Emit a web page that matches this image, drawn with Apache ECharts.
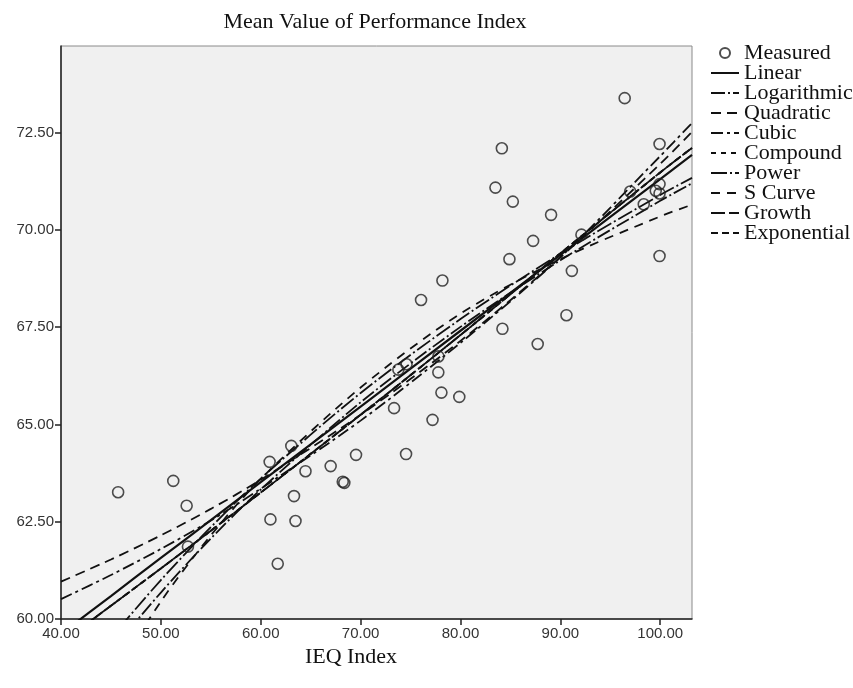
<!DOCTYPE html>
<html>
<head>
<meta charset="utf-8">
<title>Mean Value of Performance Index</title>
<script src="https://cdn.jsdelivr.net/npm/echarts@6/dist/echarts.min.js"></script>
<style>
  html, body { margin: 0; padding: 0; background: #fff; }
  #chart { width: 853px; height: 688px; }
</style>
</head>
<body>
<div id="chart"></div>
<script>
// measured points (IEQ index, performance index)
const ieq = [45.72, 51.24, 52.58, 52.71, 60.89, 63.06, 64.48, 67.00, 68.21, 68.37,
  69.54, 63.33, 60.97, 63.48, 61.70, 76.05, 74.60, 73.78, 77.79, 77.78,
  78.09, 79.88, 73.35, 77.20, 74.55, 84.20, 87.73, 96.44, 84.14, 99.93,
  83.50, 85.24, 89.07, 99.93, 99.55, 99.93, 96.99, 98.35, 92.11, 87.27,
  84.90, 78.19, 99.93, 91.15, 90.61];
const perf = [63.26, 63.55, 62.91, 61.86, 64.04, 64.45, 63.80, 63.93, 63.53, 63.50,
  64.22, 63.16, 62.56, 62.52, 61.42, 68.20, 66.55, 66.41, 66.75, 66.34,
  65.82, 65.71, 65.42, 65.12, 64.24, 67.46, 67.07, 73.39, 72.10, 72.21,
  71.09, 70.73, 70.39, 71.18, 71.01, 70.94, 70.99, 70.66, 69.88, 69.72,
  69.25, 68.70, 69.33, 68.95, 67.81];

// fitted curves at these x positions
const fitX = [40, 45, 50, 55, 60, 70, 80, 90, 100, 103.18];
const linearY = [59.62, 60.59, 61.57, 62.54, 63.52, 65.46, 67.41, 69.36, 71.31, 71.93];
const logY = [57.44, 59.15, 60.68, 62.07, 63.33, 65.57, 67.51, 69.22, 70.75, 71.20];
const quadY = [60.96, 61.53, 62.15, 62.83, 63.58, 65.25, 67.15, 69.30, 71.70, 72.52];
const cubicY = [60.51, 61.13, 61.80, 62.53, 63.35, 65.10, 67.10, 69.30, 71.90, 72.75];
const powerY = [57.82, 59.50, 61.00, 62.36, 63.61, 65.81, 67.71, 69.39, 70.90, 71.34];
const sCurveY = [55.90, 58.40, 60.45, 62.15, 63.60, 65.95, 67.85, 69.25, 70.35, 70.65];
// compound, growth and exponential give the same curve
const expY = [59.38, 60.34, 61.30, 62.27, 63.25, 65.25, 67.30, 69.40, 71.48, 72.11];

const xTicks = [40, 50, 60, 70, 80, 90, 100];
const yTicks = [60, 62.5, 65, 67.5, 70, 72.5];

const fits = [
  { name: 'Linear', y: linearY, type: 'solid', width: 2.2 },
  { name: 'Logarithmic', y: logY, type: [14, 3, 2, 3], width: 1.8 },
  { name: 'Quadratic', y: quadY, type: [10, 6], width: 1.8 },
  { name: 'Cubic', y: cubicY, type: [12, 4, 3, 4], width: 1.8 },
  { name: 'Compound', y: expY, type: [5, 5], width: 1.8 },
  { name: 'Power', y: powerY, type: [16, 3, 2, 3], width: 1.8 },
  { name: 'S Curve', y: sCurveY, type: [9, 7], width: 1.8 },
  { name: 'Growth', y: expY, type: [14, 4], width: 1.8 },
  { name: 'Exponential', y: expY, type: [7, 4], width: 1.8 }
];

const serif = 'Liberation Serif';

const chart = echarts.init(document.getElementById('chart'));

const lineSeries = fits.map(f => ({
  name: f.name,
  type: 'line',
  data: fitX.map((x, i) => [x, f.y[i]]),
  smooth: 0.3,
  symbol: 'none',
  clip: true,
  lineStyle: { color: '#111', width: f.width, type: f.type },
  itemStyle: { color: '#111' }
}));

// legend entries: hide the dot that ECharts puts on line icons
const legendData = [{ name: 'Measured' }].concat(
  fits.map(f => ({ name: f.name, itemStyle: { opacity: 0 } }))
);

chart.setOption({
  animation: false,
  title: {
    text: 'Mean Value of Performance Index',
    left: 370,
    top: 6,
    textAlign: 'center',
    textStyle: { fontFamily: serif, fontSize: 22, fontWeight: 'normal', color: '#111' }
  },
  legend: {
    orient: 'vertical',
    left: 705,
    top: 37,
    itemWidth: 28,
    itemHeight: 10,
    itemGap: -2,
    textStyle: { fontFamily: serif, fontSize: 22, lineHeight: 20, color: '#111' },
    data: legendData
  },
  grid: {
    left: 61, right: 161, top: 46, bottom: 69,
    show: true,
    backgroundColor: '#f0f0f0',
    borderColor: '#8a8a8a',
    borderWidth: 1
  },
  xAxis: {
    type: 'value',
    min: 40,
    max: 103.18,
    interval: 10,
    name: 'IEQ Index',
    nameLocation: 'middle',
    nameGap: 9,
    nameTextStyle: { fontFamily: serif, fontSize: 22, color: '#111', padding: [0, 51, 0, 0] },
    axisLine: { lineStyle: { color: '#222', width: 1.5 } },
    axisTick: { show: true, length: 6, customValues: xTicks, lineStyle: { color: '#222', width: 1.5 } },
    axisLabel: {
      customValues: xTicks,
      margin: 7,
      fontFamily: 'Liberation Sans',
      fontSize: 15,
      color: '#333',
      formatter: v => v.toFixed(2)
    },
    splitLine: { show: false }
  },
  yAxis: {
    type: 'value',
    min: 60,
    max: 74.73,
    interval: 2.5,
    axisLine: { show: true, lineStyle: { color: '#222', width: 1.5 } },
    axisTick: { show: true, length: 6, customValues: yTicks, lineStyle: { color: '#222', width: 1.5 } },
    axisLabel: {
      customValues: yTicks,
      margin: 7,
      fontFamily: 'Liberation Sans',
      fontSize: 15,
      color: '#333',
      formatter: v => v.toFixed(2)
    },
    splitLine: { show: false }
  },
  series: lineSeries.concat([{
    name: 'Measured',
    type: 'scatter',
    data: ieq.map((x, i) => [x, perf[i]]),
    symbol: 'circle',
    symbolSize: 11,
    itemStyle: { color: 'rgba(0,0,0,0)', borderColor: '#222', borderWidth: 1.6 },
    z: 3
  }])
});
</script>
</body>
</html>
